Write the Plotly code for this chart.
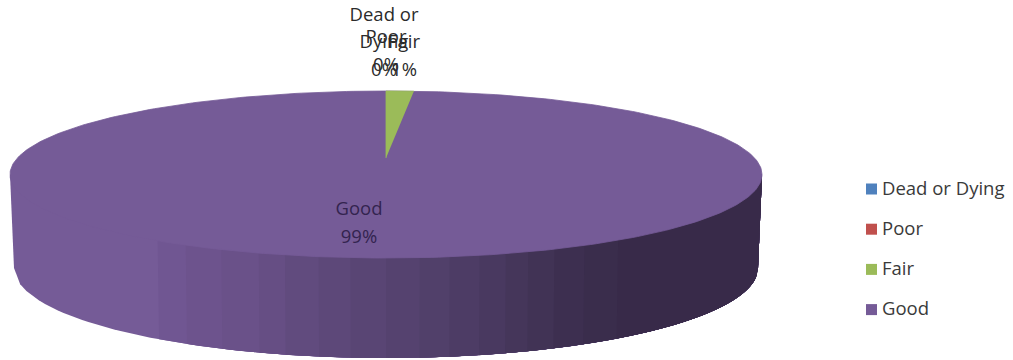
import math
import plotly.graph_objects as go

# Survey shares, in percent
categories = ["Dead or Dying", "Poor", "Fair", "Good"]
shares = [0, 0, 1, 99]
slice_colors = ["#4f81bd", "#c0504d", "#9bbb59", "#755b97"]

# Data label lines for each category
label_lines = [["Dead or", "Dying"], ["Poor"], ["Fair"], ["Good"]]
label_x = [384, 386, 404, 359]
label_last_y = [71, 66, 71, 238]
label_colors = ["#2b2b2b", "#2b2b2b", "#2b2b2b", "#33244f"]
LINE_GAP = 27.5

# Side wall shading, left to right: band start (-1..1 across the disc) and colour
wall_band_starts = [-1.0, -0.61, -0.535, -0.44, -0.34, -0.27, -0.18, -0.095, 0.0, 0.09,
                    0.17, 0.25, 0.32, 0.38, 0.45, 0.53, 0.62]
wall_band_colors = ["#755b97", "#705692", "#6d538d", "#6a5189", "#664e84", "#614b7e",
                    "#5d4879", "#594574", "#55426f", "#51406a", "#4d3c65", "#493960",
                    "#45365a", "#413355", "#3d2f50", "#3a2d4c", "#382a49"]

# Disc geometry in axis units
CX, CY, RX, RY = 386, 174.5, 376, 83.5
BCY, BRX, BRY = 268, 372, 90
APEX_Y = 158
FONT = "Open Sans"

fig = go.Figure()


def polygon(xs, ys, color, name, edge=0.8):
    fig.add_trace(go.Scatter(x=xs, y=ys, mode="lines", fill="toself", fillcolor=color,
                             line=dict(color=color, width=edge), name=name,
                             showlegend=False, hoverinfo="skip"))


# Wall bands: each one runs to the far right and the next paints over it, so no seams show
for start, color in zip(wall_band_starts, wall_band_colors):
    ts = [start + (1.0 - start) * i / 120 for i in range(121)]
    bottom_x = [CX + BRX * t for t in ts]
    bottom_y = [BCY + BRY * math.sqrt(max(0.0, 1 - t * t)) for t in ts]
    top_x = [CX + RX * t for t in reversed(ts)]
    top_y = [CY] * len(ts)
    polygon(bottom_x + top_x, bottom_y + top_y, color, "wall", edge=0)

# Top face: the largest slice covers the disc, the others sit on top clockwise from 12 o'clock
angles = [2 * math.pi * i / 360 for i in range(361)]
polygon([CX + RX * math.sin(a) for a in angles],
        [CY - RY * math.cos(a) for a in angles], slice_colors[3], categories[3])

total = sum(shares)
running = 0.0
for cat, share, color in zip(categories[:3], shares[:3], slice_colors[:3]):
    a0 = 2 * math.pi * running / total
    a1 = 2 * math.pi * (running + share) / total
    running += share
    if share == 0:
        continue
    arc = [a0 + (a1 - a0) * i / 12 for i in range(13)]
    polygon([CX] + [CX + RX * 1.18 * math.sin(a) for a in arc],
            [APEX_Y] + [CY - RY * math.cos(a) for a in arc], color, cat)

# Data labels, one text point per line to hold the wide line pitch
for cat_lines, share, x, last_y, color in zip(label_lines, shares, label_x, label_last_y, label_colors):
    lines = cat_lines + [f"{share}%"]
    n = len(lines)
    fig.add_trace(go.Scatter(
        x=[x] * n, y=[last_y - LINE_GAP * (n - 1 - i) for i in range(n)],
        mode="text", text=lines, textposition="middle center",
        textfont=dict(family=FONT, size=18.5, color=color),
        showlegend=False, hoverinfo="skip"))

# Legend column: swatches and their captions
LEGEND_X, LEGEND_Y0, LEGEND_STEP = 871.5, 189, 40.2
legend_rows = [LEGEND_Y0 + LEGEND_STEP * i for i in range(4)]
fig.add_trace(go.Scatter(
    x=[LEGEND_X] * 4, y=legend_rows, mode="markers",
    marker=dict(symbol="square", size=11, color=slice_colors),
    showlegend=False, hoverinfo="skip"))
fig.add_trace(go.Scatter(
    x=[882] * 4, y=[y + 1 for y in legend_rows], mode="text", text=categories,
    textposition="middle right",
    textfont=dict(family=FONT, size=18.5, color="#3a3a3a"),
    showlegend=False, hoverinfo="skip"))

fig.update_layout(
    width=1013, height=360, margin=dict(l=0, r=0, t=0, b=0),
    paper_bgcolor="white", plot_bgcolor="white", showlegend=False,
    xaxis=dict(range=[0, 1013], visible=False, fixedrange=True),
    yaxis=dict(range=[360, 0], visible=False, fixedrange=True),
)
fig.write_html("out.html", config=dict(displayModeBar=False))
